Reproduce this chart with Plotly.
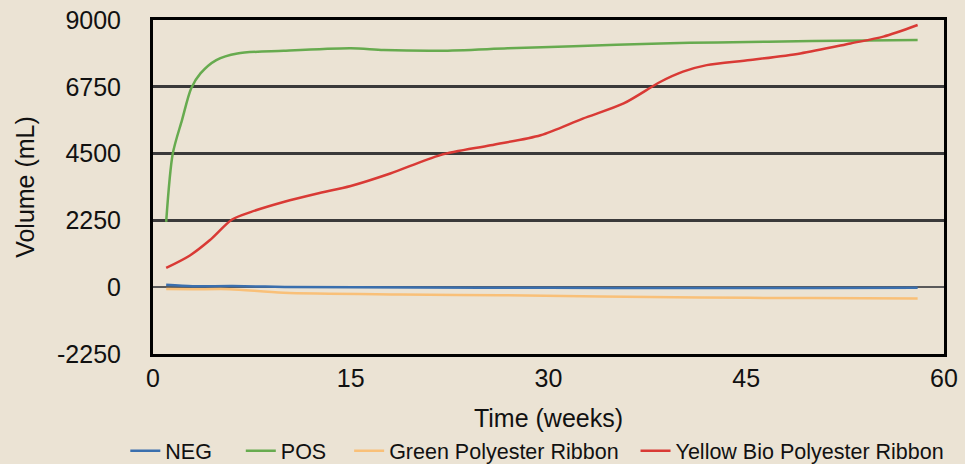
import plotly.graph_objects as go

# Data (weeks, mL)
neg_weeks = [1, 3, 6, 10, 20, 30, 40, 50, 58]
neg_vals = [80, 30, 40, 10, -10, -20, -30, -25, -15]

pos_weeks = [1, 1.5, 2.2, 2.9, 3.6, 4.8, 6.4, 9.9, 15, 17.5, 21.8, 26.9, 31.9, 38.5, 42.8, 50, 58]
pos_vals = [2200, 4500, 5630, 6700, 7200, 7650, 7875, 7965, 8050, 7990, 7965, 8045, 8120, 8210, 8245, 8290, 8325]

gpr_weeks = [1, 3, 5.8, 9.9, 18.8, 26.3, 41.5, 50, 58]
gpr_vals = [-60, -70, -65, -190, -245, -270, -350, -365, -380]

ybpr_weeks = [1, 2.8, 4.3, 6, 7.4, 9.9, 12.4, 15, 18, 21.8, 25.6, 29.4, 32.6, 35.7, 38.5, 40.2, 42, 45.3, 49.1, 52.9, 55.4, 58]
ybpr_vals = [650, 1070, 1580, 2280, 2530, 2870, 3150, 3410, 3830, 4450, 4780, 5120, 5680, 6190, 6920, 7260, 7480, 7650, 7875, 8210, 8440, 8830]

x_ticks = [0, 15, 30, 45, 60]
y_ticks = [-2250, 0, 2250, 4500, 6750, 9000]

series_names = ["NEG", "POS", "Green Polyester Ribbon", "Yellow Bio Polyester Ribbon"]
legend_pad = ["\u00a0" * 4, "\u00a0" * 3, "\u00a0" * 2, ""]

series = [
    (neg_weeks, neg_vals, "#3a6fae"),
    (pos_weeks, pos_vals, "#67ab4f"),
    (gpr_weeks, gpr_vals, "#f9c078"),
    (ybpr_weeks, ybpr_vals, "#d93a35"),
]

fig = go.Figure()
for name, pad, (xs, ys, col) in zip(series_names, legend_pad, series):
    fig.add_trace(go.Scatter(x=xs, y=ys, name=name + pad, mode="lines",
                             line=dict(color=col, width=2.5, shape="spline", smoothing=0.8)))

font_family = "Liberation Sans, Arial, sans-serif"
bg = "#ebe3d4"

fig.update_layout(
    width=965, height=464,
    margin=dict(l=153, r=21, t=20, b=110, autoexpand=False),
    paper_bgcolor=bg, plot_bgcolor=bg,
    font=dict(family=font_family, color="#111111"),
    showlegend=True,
    legend=dict(orientation="h", x=-0.035, xanchor="left", y=-0.29, yanchor="middle",
                font=dict(size=21.5, family=font_family, color="#111111"),
                bgcolor="rgba(0,0,0,0)", traceorder="normal"),
    xaxis=dict(range=[0, 60], tickvals=x_ticks, ticktext=[str(v) for v in x_ticks],
               showgrid=False, zeroline=False, showline=True, mirror=True,
               linecolor="#000000", linewidth=3, ticks="", automargin=False,
               tickfont=dict(size=25, family=font_family), ticklabelstandoff=0,
               title=dict(text="Time (weeks)", font=dict(size=25, family=font_family), standoff=19)),
    yaxis=dict(range=[-2250, 9000], tickvals=y_ticks, ticktext=[str(v) for v in y_ticks],
               showgrid=True, gridcolor="#3a3a3a", gridwidth=2.5,
               zeroline=True, zerolinecolor="#5a5a5a", zerolinewidth=1.5,
               showline=True, mirror=True, linecolor="#000000", linewidth=3, ticks="", automargin=False,
               tickfont=dict(size=25, family=font_family), ticklabelstandoff=24,
               title=dict(text="Volume (mL)", font=dict(size=25, family=font_family), standoff=16)),
)

fig.write_html("out.html", config={"displayModeBar": False},
               post_script="document.body.style.margin='0';document.body.style.overflow='hidden';")
